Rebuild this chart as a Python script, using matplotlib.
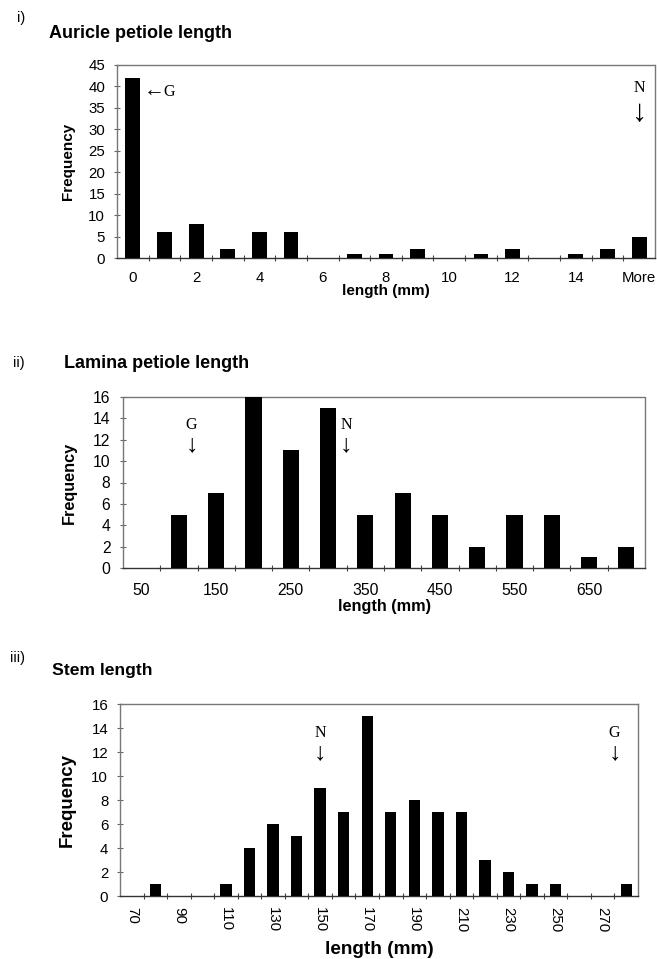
#histograms.py

from matplotlib import pyplot as plt

# i) auricle petiole length
auricle_bins = ['0', '1', '2', '3', '4', '5', '6', '7', '8', '9', '10', '11', '12', '13', '14', '15', 'More']
auricle_freq = [42, 6, 8, 2, 6, 6, 0, 1, 1, 2, 0, 1, 2, 0, 1, 2, 5]

# ii) lamina petiole length
lamina_bins = ['50', '100', '150', '200', '250', '300', '350', '400', '450', '500', '550', '600', '650', '700']
lamina_freq = [0, 5, 7, 16, 11, 15, 5, 7, 5, 2, 5, 5, 1, 2]

# iii) stem length
stem_bins = ['70', '80', '90', '100', '110', '120', '130', '140', '150', '160', '170',
             '180', '190', '200', '210', '220', '230', '240', '250', '260', '270', '280']
stem_freq = [0, 1, 0, 0, 1, 4, 6, 5, 9, 7, 15, 7, 8, 7, 7, 3, 2, 1, 1, 0, 0, 1]

W, H = 657, 959
SANS = ['Liberation Sans', 'DejaVu Sans']
SERIF = ['Liberation Serif', 'DejaVu Serif']
plt.rcParams['font.family'] = SANS


def px_axes(fig, left, top, right, bottom):
    return fig.add_axes([left / W, 1 - bottom / H, (right - left) / W, (bottom - top) / H])


def hist_panel(ax, bins, freq, ymax, ystep, width, tick_size, x_rot=0, x_pad=9.5, y_pad=6.5):
    idx = list(range(len(bins)))
    ax.bar(idx, freq, width=width, color='black', zorder=3)
    ax.set_xlim(-0.5, len(bins) - 0.5)
    ax.set_ylim(0, ymax)
    ax.set_yticks(range(0, ymax + 1, ystep))
    ax.set_xticks(idx[::2])
    ax.set_xticklabels(bins[::2], rotation=x_rot)
    ax.set_xticks([i + 0.5 for i in idx[:-1]], minor=True)
    for side in ['top', 'right', 'left']:
        ax.spines[side].set_color('#777777')
        ax.spines[side].set_linestyle((0, (1, 1)))
        ax.spines[side].set_linewidth(1.0)
    ax.spines['bottom'].set_color('#333333')
    ax.spines['bottom'].set_linewidth(1.0)
    ax.tick_params(axis='x', which='major', length=0, pad=x_pad, labelsize=tick_size)
    ax.tick_params(axis='x', which='minor', direction='inout', length=4, color='#444444', width=0.8)
    ax.tick_params(axis='y', direction='inout', length=4, color='#666666', width=0.8,
                   pad=y_pad, labelsize=tick_size)


def marker(ax, x, y_letter, y_arrow, letter, arrow_size):
    # letter above a down arrow, as hand-placed on the original figure
    ax.text(x, y_letter, letter, family=SERIF, fontsize=11.5, va='center', ha='center')
    ax.text(x, y_arrow, '\u2193', family=SERIF, fontsize=arrow_size, va='center', ha='center')


fig = plt.figure(figsize=(W / 100, H / 100), dpi=100)

# ---- panel i
ax1 = px_axes(fig, 117, 65, 655, 258)
hist_panel(ax1, auricle_bins, auricle_freq, 45, 5, 0.47, 10.8)
ax1.set_xlabel('length (mm)', fontsize=11, fontweight='bold', va='center')
ax1.xaxis.set_label_coords(0.5, -0.171)
ax1.set_ylabel('Frequency', fontsize=11, fontweight='bold', va='center')
ax1.yaxis.set_label_coords(-0.091, 0.5)
ax1.text(0.33, 38.7, '\u2190', family=SERIF, fontsize=15, va='center', ha='left')
ax1.text(0.95, 38.7, 'G', family=SERIF, fontsize=11.5, va='center', ha='left')
marker(ax1, 16, 39.6, 33.8, 'N', 22)
fig.text(17 / W, 1 - 18 / H, 'i)', fontsize=10.5, va='center', ha='left')
fig.text(49 / W, 1 - 33 / H, 'Auricle petiole length', fontsize=13, fontweight='bold', va='center', ha='left')

# ---- panel ii
ax2 = px_axes(fig, 123, 397, 645, 568)
hist_panel(ax2, lamina_bins, lamina_freq, 16, 2, 0.43, 11.3, x_pad=10.5, y_pad=7)
ax2.set_xlabel('length (mm)', fontsize=11.7, fontweight='bold', va='center')
ax2.xaxis.set_label_coords(0.5, -0.228)
ax2.set_ylabel('Frequency', fontsize=11.7, fontweight='bold', va='center')
ax2.yaxis.set_label_coords(-0.103, 0.5)
marker(ax2, 1.34, 13.4, 11.5, 'G', 18)
marker(ax2, 5.48, 13.4, 11.5, 'N', 18)
fig.text(13 / W, 1 - 363 / H, 'ii)', fontsize=10.5, va='center', ha='left')
fig.text(64 / W, 1 - 363 / H, 'Lamina petiole length', fontsize=13, fontweight='bold', va='center', ha='left')

# ---- panel iii
ax3 = px_axes(fig, 120, 704, 638, 896)
hist_panel(ax3, stem_bins, stem_freq, 16, 2, 0.48, 10.8, x_rot=270, x_pad=8, y_pad=6.5)
ax3.set_xlabel('length (mm)', fontsize=13.7, fontweight='bold', va='center')
ax3.xaxis.set_label_coords(0.5, -0.281)
ax3.set_ylabel('Frequency', fontsize=13.4, fontweight='bold', va='center')
ax3.yaxis.set_label_coords(-0.102, 0.5)
marker(ax3, 8, 13.6, 11.9, 'N', 18)
marker(ax3, 20.5, 13.6, 11.9, 'G', 18)
fig.text(10 / W, 1 - 658 / H, 'iii)', fontsize=10.5, va='center', ha='left')
fig.text(52 / W, 1 - 670 / H, 'Stem length', fontsize=12.6, fontweight='bold', va='center', ha='left')

plt.savefig('out.png', dpi=100)
